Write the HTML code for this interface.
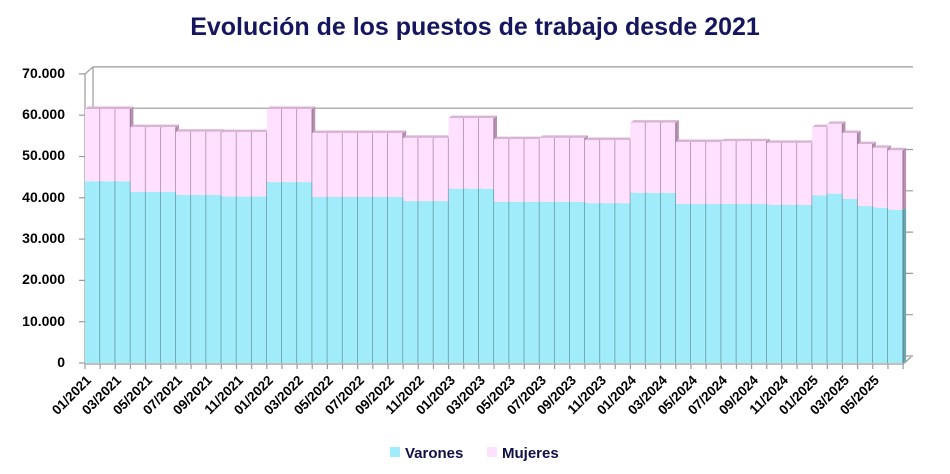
<!DOCTYPE html>
<html><head><meta charset="utf-8"><style>
html,body{margin:0;padding:0;background:#fff;}
svg{display:block;font-family:"Liberation Sans",sans-serif;}
</style></head><body>
<svg id="c" width="950" height="474" viewBox="0 0 950 474" xmlns="http://www.w3.org/2000/svg">
<text x="475" y="35" text-anchor="middle" font-size="25" font-weight="bold" fill="#16165e">Evolución de los puestos de trabajo desde 2021</text>
<g id="grid" stroke="#9a9a9a" stroke-width="1.2" fill="none"></g>
<g id="bars"></g>
<g font-size="14" font-weight="bold" fill="#000" text-anchor="end">
<text x="65" y="367">0</text>
<text x="65" y="326">10.000</text>
<text x="65" y="284">20.000</text>
<text x="65" y="243">30.000</text>
<text x="65" y="202">40.000</text>
<text x="65" y="160">50.000</text>
<text x="65" y="119">60.000</text>
<text x="65" y="78">70.000</text>
</g>
<g id="xl" font-size="13.5" font-weight="bold" fill="#000" text-anchor="end">
<text transform="translate(92,381) rotate(-45)">01/2021</text>
<text transform="translate(122,381) rotate(-45)">03/2021</text>
<text transform="translate(153,381) rotate(-45)">05/2021</text>
<text transform="translate(183,381) rotate(-45)">07/2021</text>
<text transform="translate(213,381) rotate(-45)">09/2021</text>
<text transform="translate(244,381) rotate(-45)">11/2021</text>
<text transform="translate(274,381) rotate(-45)">01/2022</text>
<text transform="translate(304,381) rotate(-45)">03/2022</text>
<text transform="translate(334,381) rotate(-45)">05/2022</text>
<text transform="translate(365,381) rotate(-45)">07/2022</text>
<text transform="translate(395,381) rotate(-45)">09/2022</text>
<text transform="translate(425,381) rotate(-45)">11/2022</text>
<text transform="translate(456,381) rotate(-45)">01/2023</text>
<text transform="translate(486,381) rotate(-45)">03/2023</text>
<text transform="translate(516,381) rotate(-45)">05/2023</text>
<text transform="translate(547,381) rotate(-45)">07/2023</text>
<text transform="translate(577,381) rotate(-45)">09/2023</text>
<text transform="translate(607,381) rotate(-45)">11/2023</text>
<text transform="translate(637,381) rotate(-45)">01/2024</text>
<text transform="translate(668,381) rotate(-45)">03/2024</text>
<text transform="translate(698,381) rotate(-45)">05/2024</text>
<text transform="translate(728,381) rotate(-45)">07/2024</text>
<text transform="translate(759,381) rotate(-45)">09/2024</text>
<text transform="translate(789,381) rotate(-45)">11/2024</text>
<text transform="translate(819,381) rotate(-45)">01/2025</text>
<text transform="translate(850,381) rotate(-45)">03/2025</text>
<text transform="translate(880,381) rotate(-45)">05/2025</text>
</g>
<rect x="390" y="447" width="10" height="10" fill="#a0ecfa"/>
<text x="405" y="458" font-size="15" font-weight="bold" fill="#10104a">Varones</text>
<rect x="487" y="447" width="10" height="10" fill="#ffe0ff"/>
<text x="502" y="458" font-size="15" font-weight="bold" fill="#10104a">Mujeres</text>
</svg>
<script>
var NS="http://www.w3.org/2000/svg";
function el(p,t,a){var e=document.createElementNS(NS,t);for(var k in a)e.setAttribute(k,a[k]);p.appendChild(e);return e;}
var x0=85,y0=363,k=4.13/1000,dx=8,dy=7,bdx=3,bdy=2.5,w=15.15,N=54;
var g=document.getElementById('grid');
for(var i=0;i<=7;i++){var y=y0-i*10000*k;
 el(g,'line',{x1:x0+dx,y1:y-dy,x2:913,y2:y-dy});
 el(g,'line',{x1:x0-6,y1:y,x2:x0,y2:y});
 el(g,'line',{x1:x0,y1:y,x2:x0+dx,y2:y-dy});
}
el(g,'line',{x1:x0,y1:y0,x2:x0,y2:y0-70000*k});
el(g,'line',{x1:x0+dx,y1:y0-dy,x2:x0+dx,y2:y0-70000*k-dy});
el(g,'line',{x1:x0,y1:y0+1,x2:x0+N*w,y2:y0+1});
el(g,'line',{x1:x0+N*w,y1:y0+1,x2:x0+N*w+dx,y2:y0+1-dy});
for(var i=0;i<=N;i++){var x=x0+i*w;el(g,'line',{x1:x,y1:y0+1,x2:x,y2:y0+6});}
var tot=[61.5,61.5,61.5,57.1,57.1,57.1,56,56,56,55.9,55.9,55.9,61.5,61.5,61.5,55.7,55.7,55.7,55.7,55.7,55.7,54.5,54.5,54.5,59.3,59.3,59.3,54.2,54.2,54.2,54.5,54.5,54.5,54,54,54,58.2,58.2,58.2,53.5,53.5,53.5,53.7,53.7,53.7,53.3,53.3,53.3,57.1,57.9,55.7,53,52.1,51.5];
var man=[44,44,44,41.4,41.4,41.4,40.7,40.7,40.7,40.3,40.3,40.3,43.8,43.8,43.8,40.2,40.2,40.2,40.2,40.2,40.2,39.2,39.2,39.2,42.2,42.2,42.2,39,39,39,39,39,39,38.7,38.7,38.7,41.2,41.2,41.2,38.5,38.5,38.5,38.5,38.5,38.5,38.3,38.3,38.3,40.6,41,39.7,38,37.6,37.1];
var b=document.getElementById('bars');
for(var i=0;i<N;i++){
 var xl=x0+i*w,xr=xl+w,yt=y0-tot[i]*1000*k,ym=y0-man[i]*1000*k;
 el(b,'polygon',{points:[xr,y0,xr+bdx,y0-bdy,xr+bdx,ym-bdy,xr,ym].join(' '),fill:'#6aa6b2'});
 el(b,'polygon',{points:[xr,ym,xr+bdx,ym-bdy,xr+bdx,yt-bdy,xr,yt].join(' '),fill:'#b890b0'});
 el(b,'polygon',{points:[xl,yt,xl+bdx,yt-bdy,xr+bdx,yt-bdy,xr,yt].join(' '),fill:'#d8b4d4'});
 el(b,'rect',{x:xl,y:ym,width:w,height:y0-ym,fill:'#a0ecfa'});
 el(b,'rect',{x:xl,y:yt,width:w,height:ym-yt,fill:'#ffe0ff'});
 el(b,'line',{x1:xr,y1:y0,x2:xr,y2:ym,stroke:'#5e8f98','stroke-width':1.4});
 el(b,'line',{x1:xr,y1:ym,x2:xr,y2:yt,stroke:'#a080a0','stroke-width':1.4});
}
</script>
</body></html>
